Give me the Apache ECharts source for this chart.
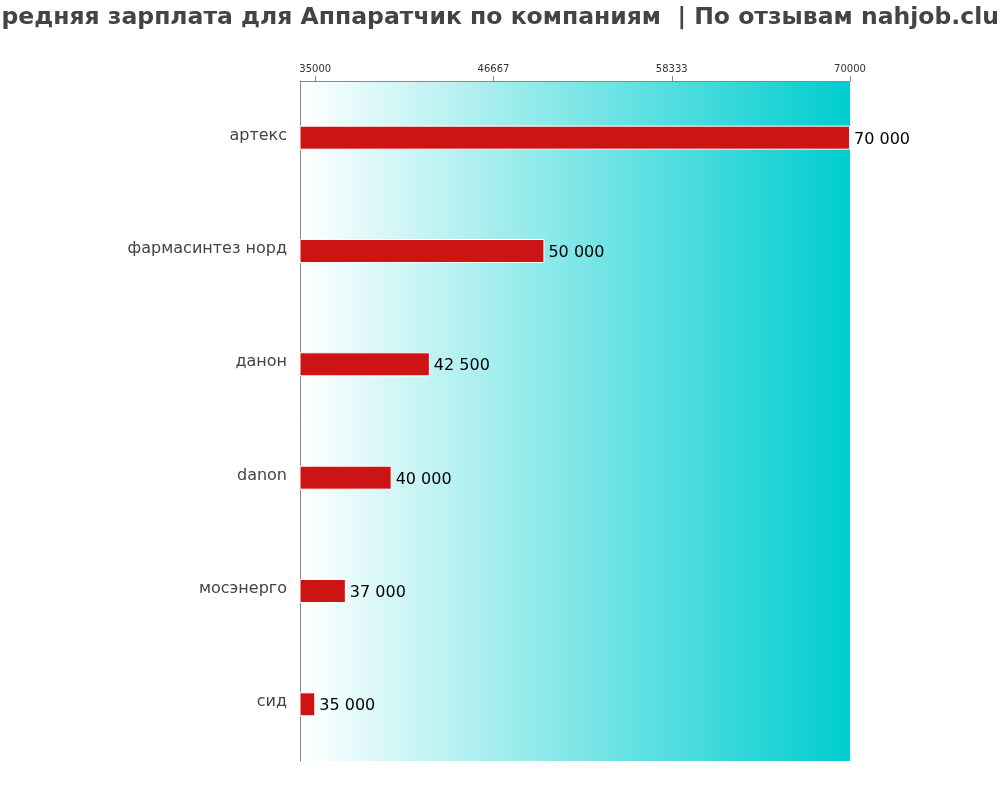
<!DOCTYPE html>
<html><head><meta charset="utf-8">
<script src="https://cdn.jsdelivr.net/npm/echarts@6/dist/echarts.min.js"></script>
<style>html,body{margin:0;padding:0;background:#fff}#c{width:1000px;height:800px}</style>
</head><body><div id="c"></div>
<script>
const titleText = 'Средняя зарплата для Аппаратчик по компаниям  | По отзывам nahjob.club';
const categories = ['артекс', 'фармасинтез норд', 'данон', 'danon', 'мосэнерго', 'сид'];
const values = [70000, 50000, 42500, 40000, 37000, 35000];
const tickValues = [35000, 46667, 58333, 70000];

const FONT = 'DejaVu Sans';
const fmt = v => String(v).replace(/\B(?=(\d{3})+(?!\d))/g, ' ');
const chart = echarts.init(document.getElementById('c'));
chart.setOption({
  animation: false,
  textStyle: {fontFamily: FONT},
  title: {
    text: titleText, left: 'center', top: 1,
    textStyle: {fontFamily: FONT, fontWeight: 'bold', fontSize: 23.5, color: '#444'}
  },
  grid: {
    left: 300, right: 150, top: 81, bottom: 39, show: true, borderWidth: 0,
    backgroundColor: new echarts.graphic.LinearGradient(0, 0, 1, 0, [
      {offset: 0, color: '#ffffff'}, {offset: 1, color: '#00cdd0'}
    ])
  },
  xAxis: {
    type: 'value', position: 'top', min: 34000, max: 70000,
    splitLine: {show: false},
    axisLine: {show: true, lineStyle: {color: '#888'}},
    axisTick: {show: true, customValues: tickValues, length: 5, lineStyle: {color: '#888'}},
    axisLabel: {customValues: tickValues, fontSize: 10, color: '#333', margin: 7, fontFamily: FONT,
      formatter: v => String(v)}
  },
  yAxis: {
    type: 'category', data: categories, inverse: true,
    axisLine: {show: true, lineStyle: {color: '#888'}},
    axisTick: {show: false},
    axisLabel: {margin: 13, formatter: v => '{a|' + v + '}',
      rich: {a: {fontSize: 16, color: '#444', fontFamily: FONT, padding: [0, 0, 4, 0]}}}
  },
  series: [{
    type: 'bar', data: values, barWidth: 24,
    itemStyle: {color: '#cc1414', borderColor: '#fff', borderWidth: 1},
    label: {show: true, position: 'right', color: '#000', fontSize: 16, distance: 4,
      fontFamily: FONT, formatter: p => fmt(p.value), offset: [0, 2]}
  }]
});
</script></body></html>
